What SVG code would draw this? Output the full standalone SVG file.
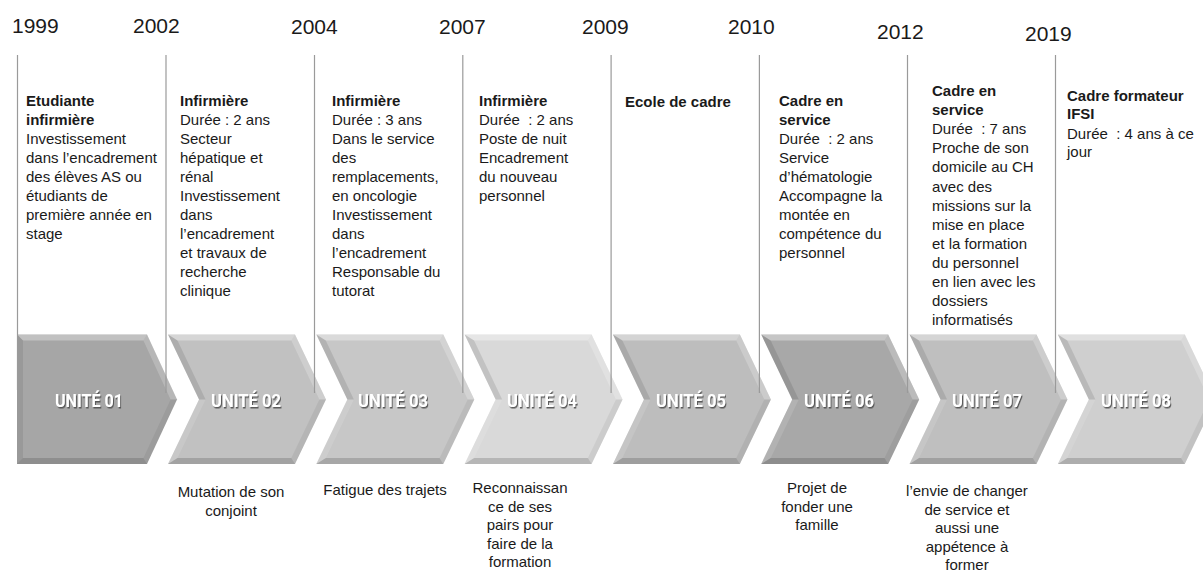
<svg xmlns="http://www.w3.org/2000/svg" xmlns:xlink="http://www.w3.org/1999/xlink" width="1203" height="571" viewBox="0 0 1203 571">
<style>
.yr{font-family:"Liberation Sans",Arial,sans-serif;font-size:21px;fill:#1a1a1a}
.col{font-family:"Liberation Sans",Arial,sans-serif;font-size:15px;fill:#1a1a1a}
.b{font-weight:bold}
.bot{font-family:"Liberation Sans",Arial,sans-serif;font-size:15px;fill:#1a1a1a;text-anchor:middle}
.unit{font-family:Roboto,"Liberation Sans",sans-serif;font-weight:700;font-size:18.5px;fill:#ffffff;text-anchor:middle;filter:url(#sh)}
.vl{stroke:#9a9a9a;stroke-width:1.2;fill:none}
.hl{fill:#ffffff}
.dk{fill:#000000}
</style>
<defs>
<filter id="sh" x="-10%" y="-30%" width="130%" height="180%">
<feDropShadow dx="1" dy="1.5" stdDeviation="0.7" flood-color="#505050" flood-opacity="0.9"/>
</filter>
<polygon id="chev" points="0,334.5 127,334.5 158,399.5 127,464 0,464 31,399.5"/>
<g id="bevel">
<polygon class="hl" fill-opacity="0.35" points="0,334.5 127,334.5 123.3,340.5 9.5,340.5"/>
<polygon class="hl" fill-opacity="0.22" points="127,334.5 158,399.5 151.4,399.5 123.3,340.5"/>
<polygon class="dk" fill-opacity="0.06" points="158,399.5 127,464 123.3,458 151.4,399.5"/>
<polygon class="dk" fill-opacity="0.16" points="127,464 0,464 9.5,458 123.3,458"/>
<polygon class="hl" fill-opacity="0.12" points="0,464 31,399.5 37.6,399.5 9.5,458"/>
<polygon class="dk" fill-opacity="0.10" points="31,399.5 0,334.5 9.5,340.5 37.6,399.5"/>
</g>
</defs>
<rect width="1203" height="571" fill="#ffffff"/>

<g id="years">
<text class="yr" x="12" y="33">1999</text>
<text class="yr" x="133" y="33">2002</text>
<text class="yr" x="291" y="34">2004</text>
<text class="yr" x="439" y="34">2007</text>
<text class="yr" x="582" y="34">2009</text>
<text class="yr" x="728" y="34">2010</text>
<text class="yr" x="877" y="39">2012</text>
<text class="yr" x="1025" y="41">2019</text>
</g>

<g id="unit01">
<polygon points="17,334.5 147,334.5 177,399.5 147,464 17,464" fill="#a6a6a6"/>
<polygon class="hl" fill-opacity="0.3" points="17,334.5 147,334.5 143.4,340.5 23,340.5"/>
<polygon class="hl" fill-opacity="0.2" points="147,334.5 177,399.5 170.6,399.5 143.4,340.5"/>
<polygon class="dk" fill-opacity="0.06" points="177,399.5 147,464 143.4,458 170.6,399.5"/>
<polygon class="dk" fill-opacity="0.14" points="147,464 17,464 23,458 143.4,458"/>
<polygon class="dk" fill-opacity="0.08" points="17,334.5 23,340.5 23,458 17,464"/>
<text class="unit" x="89" y="407" textLength="68" lengthAdjust="spacingAndGlyphs">UNITÉ 01</text>
</g>
<g id="unit02">
<use xlink:href="#chev" transform="translate(168,0)" fill="#c1c1c1"/>
<use xlink:href="#bevel" transform="translate(168,0)"/>
<text class="unit" x="246" y="407" textLength="70" lengthAdjust="spacingAndGlyphs">UNITÉ 02</text>
</g>
<g id="unit03">
<use xlink:href="#chev" transform="translate(316.3,0)" fill="#c7c7c7"/>
<use xlink:href="#bevel" transform="translate(316.3,0)"/>
<text class="unit" x="393" y="407" textLength="70" lengthAdjust="spacingAndGlyphs">UNITÉ 03</text>
</g>
<g id="unit04">
<use xlink:href="#chev" transform="translate(464.6,0)" fill="#d9d9d9"/>
<use xlink:href="#bevel" transform="translate(464.6,0)"/>
<text class="unit" x="542" y="407" textLength="70" lengthAdjust="spacingAndGlyphs">UNITÉ 04</text>
</g>
<g id="unit05">
<use xlink:href="#chev" transform="translate(612.9,0)" fill="#bdbdbd"/>
<use xlink:href="#bevel" transform="translate(612.9,0)"/>
<text class="unit" x="691" y="407" textLength="70" lengthAdjust="spacingAndGlyphs">UNITÉ 05</text>
</g>
<g id="unit06">
<use xlink:href="#chev" transform="translate(761.2,0)" fill="#a8a8a8"/>
<use xlink:href="#bevel" transform="translate(761.2,0)"/>
<text class="unit" x="839" y="407" textLength="70" lengthAdjust="spacingAndGlyphs">UNITÉ 06</text>
</g>
<g id="unit07">
<use xlink:href="#chev" transform="translate(909.5,0)" fill="#bfbfbf"/>
<use xlink:href="#bevel" transform="translate(909.5,0)"/>
<text class="unit" x="987" y="407" textLength="70" lengthAdjust="spacingAndGlyphs">UNITÉ 07</text>
</g>
<g id="unit08">
<use xlink:href="#chev" transform="translate(1057.8,0)" fill="#cfcfcf"/>
<use xlink:href="#bevel" transform="translate(1057.8,0)"/>
<text class="unit" x="1136" y="407" textLength="70" lengthAdjust="spacingAndGlyphs">UNITÉ 08</text>
</g>

<g id="connectors">
<line class="vl" x1="17.5" y1="55" x2="17.5" y2="390"/>
<line class="vl" x1="166" y1="55" x2="166" y2="393"/>
<line class="vl" x1="314.5" y1="55" x2="314.5" y2="393"/>
<line class="vl" x1="462.8" y1="55" x2="462.8" y2="393"/>
<line class="vl" x1="611.1" y1="55" x2="611.1" y2="393"/>
<line class="vl" x1="759.4" y1="55" x2="759.4" y2="393"/>
<line class="vl" x1="907.5" y1="55" x2="907.5" y2="393"/>
<line class="vl" x1="1055.5" y1="55" x2="1055.5" y2="393"/>
</g>

<g id="col1">
<text class="col" x="26" y="106"><tspan class="b">Etudiante</tspan><tspan class="b" x="26" dy="19">infirmière</tspan><tspan x="26" dy="19">Investissement</tspan><tspan x="26" dy="19">dans l’encadrement</tspan><tspan x="26" dy="19">des élèves AS ou</tspan><tspan x="26" dy="19">étudiants de</tspan><tspan x="26" dy="19">première année en</tspan><tspan x="26" dy="19">stage</tspan></text>
</g>
<g id="col2">
<text class="col" x="180" y="106"><tspan class="b">Infirmière</tspan><tspan x="180" dy="19">Durée : 2 ans</tspan><tspan x="180" dy="19">Secteur</tspan><tspan x="180" dy="19">hépatique et</tspan><tspan x="180" dy="19">rénal</tspan><tspan x="180" dy="19">Investissement</tspan><tspan x="180" dy="19">dans</tspan><tspan x="180" dy="19">l’encadrement</tspan><tspan x="180" dy="19">et travaux de</tspan><tspan x="180" dy="19">recherche</tspan><tspan x="180" dy="19">clinique</tspan></text>
</g>
<g id="col3">
<text class="col" x="332" y="106"><tspan class="b">Infirmière</tspan><tspan x="332" dy="19">Durée : 3 ans</tspan><tspan x="332" dy="19">Dans le service</tspan><tspan x="332" dy="19">des</tspan><tspan x="332" dy="19">remplacements,</tspan><tspan x="332" dy="19">en oncologie</tspan><tspan x="332" dy="19">Investissement</tspan><tspan x="332" dy="19">dans</tspan><tspan x="332" dy="19">l’encadrement</tspan><tspan x="332" dy="19">Responsable du</tspan><tspan x="332" dy="19">tutorat</tspan></text>
</g>
<g id="col4">
<text class="col" x="479" y="106"><tspan class="b">Infirmière</tspan><tspan x="479" dy="19">Durée &#160;: 2 ans</tspan><tspan x="479" dy="19">Poste de nuit</tspan><tspan x="479" dy="19">Encadrement</tspan><tspan x="479" dy="19">du nouveau</tspan><tspan x="479" dy="19">personnel</tspan></text>
</g>
<g id="col5">
<text class="col b" x="625" y="107">Ecole de cadre</text>
</g>
<g id="col6">
<text class="col" x="779" y="106"><tspan class="b">Cadre en</tspan><tspan class="b" x="779" dy="19">service</tspan><tspan x="779" dy="19">Durée &#160;: 2 ans</tspan><tspan x="779" dy="19">Service</tspan><tspan x="779" dy="19">d’hématologie</tspan><tspan x="779" dy="19">Accompagne la</tspan><tspan x="779" dy="19">montée en</tspan><tspan x="779" dy="19">compétence du</tspan><tspan x="779" dy="19">personnel</tspan></text>
</g>
<g id="col7">
<text class="col" x="932" y="96"><tspan class="b">Cadre en</tspan><tspan class="b" x="932" dy="19.1">service</tspan><tspan x="932" dy="19.1">Durée &#160;: 7 ans</tspan><tspan x="932" dy="19.1">Proche de son</tspan><tspan x="932" dy="19.1">domicile au CH</tspan><tspan x="932" dy="19.1">avec des</tspan><tspan x="932" dy="19.1">missions sur la</tspan><tspan x="932" dy="19.1">mise en place</tspan><tspan x="932" dy="19.1">et la formation</tspan><tspan x="932" dy="19.1">du personnel</tspan><tspan x="932" dy="19.1">en lien avec les</tspan><tspan x="932" dy="19.1">dossiers</tspan><tspan x="932" dy="19.1">informatisés</tspan></text>
</g>
<g id="col8">
<text class="col" x="1067" y="101"><tspan class="b">Cadre formateur</tspan><tspan class="b" x="1067" dy="18">IFSI</tspan><tspan x="1067" dy="19.5">Durée &#160;: 4 ans à ce</tspan><tspan x="1067" dy="18.5">jour</tspan></text>
</g>

<g id="bottom">
<text class="bot" x="231" y="497"><tspan x="231">Mutation de son</tspan><tspan x="231" dy="18.5">conjoint</tspan></text>
<text class="bot" x="385" y="495">Fatigue des trajets</text>
<text class="bot" x="520" y="493"><tspan x="520">Reconnaissan</tspan><tspan x="520" dy="18.5">ce de ses</tspan><tspan x="520" dy="18.5">pairs pour</tspan><tspan x="520" dy="18.5">faire de la</tspan><tspan x="520" dy="18.5">formation</tspan></text>
<text class="bot" x="817" y="493"><tspan x="817">Projet de</tspan><tspan x="817" dy="18.5">fonder une</tspan><tspan x="817" dy="18.5">famille</tspan></text>
<text class="bot" x="967" y="496"><tspan x="967">l’envie de changer</tspan><tspan x="967" dy="18.5">de service et</tspan><tspan x="967" dy="18.5">aussi une</tspan><tspan x="967" dy="18.5">appétence à</tspan><tspan x="967" dy="18.5">former</tspan></text>
</g>
</svg>
